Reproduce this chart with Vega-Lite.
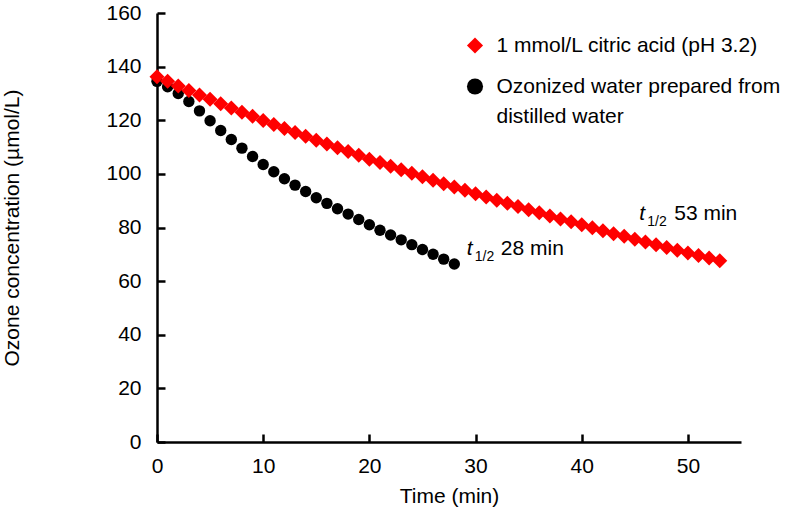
{
  "$schema": "https://vega.github.io/schema/vega-lite/v6.json",
  "width": 584,
  "height": 429,
  "autosize": {"type": "none"},
  "padding": {"left": 157, "top": 13, "right": 50, "bottom": 75},
  "background": "white",
  "config": {
    "view": {"stroke": null},
    "font": "Liberation Sans",
    "style": {"guide-label": {"lineHeight": 30}}
  },
  "datasets": {
    "ozone": [
      {"series": "1 mmol/L citric acid (pH 3.2)", "time": 0, "conc": 136.2},
      {"series": "1 mmol/L citric acid (pH 3.2)", "time": 1, "conc": 134.5},
      {"series": "1 mmol/L citric acid (pH 3.2)", "time": 2, "conc": 132.8},
      {"series": "1 mmol/L citric acid (pH 3.2)", "time": 3, "conc": 131.1},
      {"series": "1 mmol/L citric acid (pH 3.2)", "time": 4, "conc": 129.4},
      {"series": "1 mmol/L citric acid (pH 3.2)", "time": 5, "conc": 127.8},
      {"series": "1 mmol/L citric acid (pH 3.2)", "time": 6, "conc": 126.2},
      {"series": "1 mmol/L citric acid (pH 3.2)", "time": 7, "conc": 124.6},
      {"series": "1 mmol/L citric acid (pH 3.2)", "time": 8, "conc": 123.0},
      {"series": "1 mmol/L citric acid (pH 3.2)", "time": 9, "conc": 121.5},
      {"series": "1 mmol/L citric acid (pH 3.2)", "time": 10, "conc": 119.9},
      {"series": "1 mmol/L citric acid (pH 3.2)", "time": 11, "conc": 118.4},
      {"series": "1 mmol/L citric acid (pH 3.2)", "time": 12, "conc": 116.9},
      {"series": "1 mmol/L citric acid (pH 3.2)", "time": 13, "conc": 115.4},
      {"series": "1 mmol/L citric acid (pH 3.2)", "time": 14, "conc": 114.0},
      {"series": "1 mmol/L citric acid (pH 3.2)", "time": 15, "conc": 112.5},
      {"series": "1 mmol/L citric acid (pH 3.2)", "time": 16, "conc": 111.1},
      {"series": "1 mmol/L citric acid (pH 3.2)", "time": 17, "conc": 109.7},
      {"series": "1 mmol/L citric acid (pH 3.2)", "time": 18, "conc": 108.3},
      {"series": "1 mmol/L citric acid (pH 3.2)", "time": 19, "conc": 106.9},
      {"series": "1 mmol/L citric acid (pH 3.2)", "time": 20, "conc": 105.5},
      {"series": "1 mmol/L citric acid (pH 3.2)", "time": 21, "conc": 104.2},
      {"series": "1 mmol/L citric acid (pH 3.2)", "time": 22, "conc": 102.8},
      {"series": "1 mmol/L citric acid (pH 3.2)", "time": 23, "conc": 101.5},
      {"series": "1 mmol/L citric acid (pH 3.2)", "time": 24, "conc": 100.2},
      {"series": "1 mmol/L citric acid (pH 3.2)", "time": 25, "conc": 98.9},
      {"series": "1 mmol/L citric acid (pH 3.2)", "time": 26, "conc": 97.6},
      {"series": "1 mmol/L citric acid (pH 3.2)", "time": 27, "conc": 96.3},
      {"series": "1 mmol/L citric acid (pH 3.2)", "time": 28, "conc": 95.1},
      {"series": "1 mmol/L citric acid (pH 3.2)", "time": 29, "conc": 93.9},
      {"series": "1 mmol/L citric acid (pH 3.2)", "time": 30, "conc": 92.6},
      {"series": "1 mmol/L citric acid (pH 3.2)", "time": 31, "conc": 91.4},
      {"series": "1 mmol/L citric acid (pH 3.2)", "time": 32, "conc": 90.2},
      {"series": "1 mmol/L citric acid (pH 3.2)", "time": 33, "conc": 89.0},
      {"series": "1 mmol/L citric acid (pH 3.2)", "time": 34, "conc": 87.8},
      {"series": "1 mmol/L citric acid (pH 3.2)", "time": 35, "conc": 86.6},
      {"series": "1 mmol/L citric acid (pH 3.2)", "time": 36, "conc": 85.5},
      {"series": "1 mmol/L citric acid (pH 3.2)", "time": 37, "conc": 84.3},
      {"series": "1 mmol/L citric acid (pH 3.2)", "time": 38, "conc": 83.2},
      {"series": "1 mmol/L citric acid (pH 3.2)", "time": 39, "conc": 82.1},
      {"series": "1 mmol/L citric acid (pH 3.2)", "time": 40, "conc": 81.0},
      {"series": "1 mmol/L citric acid (pH 3.2)", "time": 41, "conc": 79.9},
      {"series": "1 mmol/L citric acid (pH 3.2)", "time": 42, "conc": 78.8},
      {"series": "1 mmol/L citric acid (pH 3.2)", "time": 43, "conc": 77.7},
      {"series": "1 mmol/L citric acid (pH 3.2)", "time": 44, "conc": 76.7},
      {"series": "1 mmol/L citric acid (pH 3.2)", "time": 45, "conc": 75.6},
      {"series": "1 mmol/L citric acid (pH 3.2)", "time": 46, "conc": 74.6},
      {"series": "1 mmol/L citric acid (pH 3.2)", "time": 47, "conc": 73.6},
      {"series": "1 mmol/L citric acid (pH 3.2)", "time": 48, "conc": 72.5},
      {"series": "1 mmol/L citric acid (pH 3.2)", "time": 49, "conc": 71.5},
      {"series": "1 mmol/L citric acid (pH 3.2)", "time": 50, "conc": 70.5},
      {"series": "1 mmol/L citric acid (pH 3.2)", "time": 51, "conc": 69.6},
      {"series": "1 mmol/L citric acid (pH 3.2)", "time": 52, "conc": 68.6},
      {"series": "1 mmol/L citric acid (pH 3.2)", "time": 53, "conc": 67.6},
      {"series": "Ozonized water prepared from distilled water", "time": 0, "conc": 134.5},
      {"series": "Ozonized water prepared from distilled water", "time": 1, "conc": 132.5},
      {"series": "Ozonized water prepared from distilled water", "time": 2, "conc": 130.0},
      {"series": "Ozonized water prepared from distilled water", "time": 3, "conc": 127.0},
      {"series": "Ozonized water prepared from distilled water", "time": 4, "conc": 123.5},
      {"series": "Ozonized water prepared from distilled water", "time": 5, "conc": 119.8},
      {"series": "Ozonized water prepared from distilled water", "time": 6, "conc": 116.2},
      {"series": "Ozonized water prepared from distilled water", "time": 7, "conc": 112.8},
      {"series": "Ozonized water prepared from distilled water", "time": 8, "conc": 109.6},
      {"series": "Ozonized water prepared from distilled water", "time": 9, "conc": 106.5},
      {"series": "Ozonized water prepared from distilled water", "time": 10, "conc": 103.5},
      {"series": "Ozonized water prepared from distilled water", "time": 11, "conc": 100.8},
      {"series": "Ozonized water prepared from distilled water", "time": 12, "conc": 98.2},
      {"series": "Ozonized water prepared from distilled water", "time": 13, "conc": 95.8},
      {"series": "Ozonized water prepared from distilled water", "time": 14, "conc": 93.4},
      {"series": "Ozonized water prepared from distilled water", "time": 15, "conc": 91.1},
      {"series": "Ozonized water prepared from distilled water", "time": 16, "conc": 89.0},
      {"series": "Ozonized water prepared from distilled water", "time": 17, "conc": 87.0},
      {"series": "Ozonized water prepared from distilled water", "time": 18, "conc": 85.0},
      {"series": "Ozonized water prepared from distilled water", "time": 19, "conc": 83.0},
      {"series": "Ozonized water prepared from distilled water", "time": 20, "conc": 81.0},
      {"series": "Ozonized water prepared from distilled water", "time": 21, "conc": 79.0},
      {"series": "Ozonized water prepared from distilled water", "time": 22, "conc": 77.2},
      {"series": "Ozonized water prepared from distilled water", "time": 23, "conc": 75.4},
      {"series": "Ozonized water prepared from distilled water", "time": 24, "conc": 73.6},
      {"series": "Ozonized water prepared from distilled water", "time": 25, "conc": 71.8},
      {"series": "Ozonized water prepared from distilled water", "time": 26, "conc": 70.0},
      {"series": "Ozonized water prepared from distilled water", "time": 27, "conc": 68.2},
      {"series": "Ozonized water prepared from distilled water", "time": 28, "conc": 66.4}
    ]
  },
  "data": {"name": "ozone"},
  "encoding": {
    "x": {
      "field": "time",
      "type": "quantitative",
      "scale": {"domain": [0, 55], "nice": false, "zero": true},
      "axis": {
        "values": [0, 10, 20, 30, 40, 50],
        "title": "Time (min)",
        "grid": false,
        "domainColor": "black",
        "domainWidth": 2.5,
        "tickColor": "black",
        "tickWidth": 2.5,
        "tickSize": -8,
        "labelFont": "Liberation Sans",
        "labelFontSize": 21,
        "labelColor": "black",
        "labelPadding": 21,
        "labelFlush": false,
        "labelOverlap": false,
        "titleFont": "Liberation Sans",
        "titleFontSize": 21,
        "titleFontWeight": "normal",
        "titleColor": "black",
        "titleX": 292,
        "titleY": 54,
        "titleAlign": "center",
        "titleBaseline": "middle"
      }
    },
    "y": {
      "field": "conc",
      "type": "quantitative",
      "scale": {"domain": [0, 160], "nice": false},
      "axis": {
        "values": [0, 20, 40, 60, 80, 100, 120, 140, 160],
        "title": "Ozone concentration (µmol/L)",
        "grid": false,
        "domainColor": "black",
        "domainWidth": 2.5,
        "tickColor": "black",
        "tickWidth": 2.5,
        "tickSize": -8,
        "labelFont": "Liberation Sans",
        "labelFontSize": 21,
        "labelColor": "black",
        "labelPadding": 24,
        "labelOverlap": false,
        "titleFont": "Liberation Sans",
        "titleFontSize": 21,
        "titleFontWeight": "normal",
        "titleColor": "black",
        "titleX": -145,
        "titleY": 214.5,
        "titleAngle": -90,
        "titleAlign": "center",
        "titleBaseline": "middle"
      }
    }
  },
  "layer": [
    {
      "transform": [{"filter": "datum.series == 'Ozonized water prepared from distilled water'"}],
      "mark": {"type": "point", "filled": true, "opacity": 1, "size": 130, "strokeWidth": 0},
      "encoding": {
        "color": {
          "field": "series",
          "type": "nominal",
          "scale": {"domain": ["1 mmol/L citric acid (pH 3.2)", "Ozonized water prepared from distilled water"], "range": ["#ff0000", "#000000"]},
          "legend": {
            "title": null,
            "orient": "none",
            "legendX": 307.5,
            "legendY": 22,
            "direction": "vertical",
            "padding": 0,
            "symbolSize": 260,
            "symbolStrokeWidth": 0,
            "labelFont": "Liberation Sans",
            "labelFontSize": 21,
            "labelColor": "black",
            "labelOffset": 11,
            "labelLimit": 500,
            "rowPadding": 19,
            "labelExpr": "datum.label == 'Ozonized water prepared from distilled water' ? ['Ozonized water prepared from', 'distilled water'] : datum.label"
          }
        },
        "shape": {
          "field": "series",
          "type": "nominal",
          "scale": {"domain": ["1 mmol/L citric acid (pH 3.2)", "Ozonized water prepared from distilled water"], "range": ["diamond", "circle"]},
          "legend": {
            "title": null,
            "orient": "none",
            "legendX": 307.5,
            "legendY": 22,
            "direction": "vertical",
            "padding": 0,
            "symbolSize": 260,
            "symbolStrokeWidth": 0,
            "labelFont": "Liberation Sans",
            "labelFontSize": 21,
            "labelColor": "black",
            "labelOffset": 11,
            "labelLimit": 500,
            "rowPadding": 19,
            "labelExpr": "datum.label == 'Ozonized water prepared from distilled water' ? ['Ozonized water prepared from', 'distilled water'] : datum.label"
          }
        }
      }
    },
    {
      "transform": [{"filter": "datum.series == '1 mmol/L citric acid (pH 3.2)'"}],
      "mark": {"type": "point", "filled": true, "opacity": 1, "size": 225, "strokeWidth": 0},
      "encoding": {
        "color": {"field": "series", "type": "nominal"},
        "shape": {"field": "series", "type": "nominal"}
      }
    },
    {
      "transform": [{"filter": "datum.series == 'Ozonized water prepared from distilled water' && datum.time == 28"}],
      "mark": {"type": "text", "text": "t", "font": "Liberation Sans", "fontStyle": "italic", "fontSize": 21, "color": "black", "align": "left", "baseline": "alphabetic", "dx": 12.5, "dy": -9}
    },
    {
      "transform": [{"filter": "datum.series == 'Ozonized water prepared from distilled water' && datum.time == 28"}],
      "mark": {"type": "text", "text": "1/2", "font": "Liberation Sans", "fontSize": 14, "color": "black", "align": "left", "baseline": "alphabetic", "dx": 20.5, "dy": -3}
    },
    {
      "transform": [{"filter": "datum.series == 'Ozonized water prepared from distilled water' && datum.time == 28"}],
      "mark": {"type": "text", "text": "28 min", "font": "Liberation Sans", "fontSize": 21, "color": "black", "align": "left", "baseline": "alphabetic", "dx": 46.5, "dy": -9}
    },
    {
      "transform": [{"filter": "datum.series == '1 mmol/L citric acid (pH 3.2)' && datum.time == 53"}],
      "mark": {"type": "text", "text": "t", "font": "Liberation Sans", "fontStyle": "italic", "fontSize": 21, "color": "black", "align": "left", "baseline": "alphabetic", "dx": -80.5, "dy": -41}
    },
    {
      "transform": [{"filter": "datum.series == '1 mmol/L citric acid (pH 3.2)' && datum.time == 53"}],
      "mark": {"type": "text", "text": "1/2", "font": "Liberation Sans", "fontSize": 14, "color": "black", "align": "left", "baseline": "alphabetic", "dx": -72.5, "dy": -35}
    },
    {
      "transform": [{"filter": "datum.series == '1 mmol/L citric acid (pH 3.2)' && datum.time == 53"}],
      "mark": {"type": "text", "text": "53 min", "font": "Liberation Sans", "fontSize": 21, "color": "black", "align": "left", "baseline": "alphabetic", "dx": -45.5, "dy": -41}
    }
  ]
}
